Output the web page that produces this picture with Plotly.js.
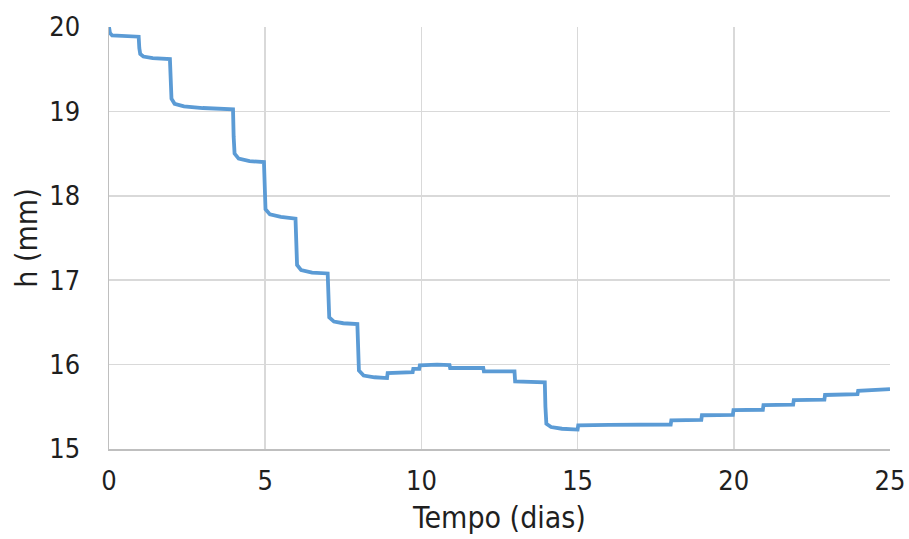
<!DOCTYPE html>
<html>
<head>
<meta charset="utf-8">
<script src="https://cdn.plot.ly/plotly-3.0.1.min.js"></script>
<style>html,body{margin:0;padding:0;background:#fff;}#chart{width:909px;height:539px;}</style>
</head>
<body>
<div id="chart"></div>
<script>
const tempoDias = [
  0, 0.03, 0.1, 0.5, 0.95,
  0.97, 1.0, 1.1, 1.4, 1.95,
  1.97, 2.0, 2.1, 2.4, 3.0, 3.97,
  3.99, 4.02, 4.15, 4.5, 4.96,
  4.98, 5.01, 5.15, 5.5, 5.97,
  5.99, 6.02, 6.15, 6.5, 7.0,
  7.02, 7.05, 7.2, 7.5, 7.95,
  7.97, 8.0, 8.15, 8.5, 8.9,
  8.92, 9.72, 9.74, 9.93, 9.95, 10.5, 10.9,
  10.92, 11.98, 12.0, 12.98, 13.0, 13.95,
  13.97, 14.0, 14.15, 14.5, 15.0,
  15.02, 16.0, 17.0, 17.98,
  18.0, 18.96, 18.98, 19.97, 19.99, 20.93,
  20.95, 21.9, 21.92, 22.9, 22.92, 23.96,
  23.98, 25.0
];
const alturaMm = [
  20.0, 19.93, 19.9, 19.89, 19.885,
  19.75, 19.68, 19.65, 19.63, 19.62,
  19.3, 19.15, 19.09, 19.06, 19.04, 19.025,
  18.7, 18.5, 18.44, 18.41, 18.40,
  18.1, 17.84, 17.78, 17.75, 17.73,
  17.4, 17.18, 17.12, 17.09, 17.08,
  16.8, 16.56, 16.51, 16.49, 16.48,
  16.2, 15.93, 15.87, 15.85, 15.84,
  15.90, 15.91, 15.95, 15.95, 15.99, 16.0, 15.995,
  15.96, 15.96, 15.92, 15.92, 15.80, 15.79,
  15.5, 15.3, 15.26, 15.24, 15.23,
  15.28, 15.285, 15.29, 15.29,
  15.34, 15.345, 15.40, 15.405, 15.46, 15.465,
  15.52, 15.525, 15.58, 15.585, 15.64, 15.65,
  15.69, 15.71
];
const xTicks = [0, 5, 10, 15, 20, 25];
const yTicks = [15, 16, 17, 18, 19, 20];

const fam = '"DejaVu Sans Condensed", "DejaVu Sans", sans-serif';
const font = {family: fam, size: 27, color: '#1f1f1f'};
const titleFont = {family: fam, size: 30, color: '#1f1f1f'};

const trace = {
  x: tempoDias, y: alturaMm, type: 'scatter', mode: 'lines',
  line: {color: '#5B9BD5', width: 3.8}, hoverinfo: 'x+y'
};

const layout = {
  width: 909, height: 539,
  margin: {l: 109, r: 19, t: 27, b: 90},
  paper_bgcolor: '#ffffff', plot_bgcolor: '#ffffff',
  font: font,
  showlegend: false,
  xaxis: {
    range: [0, 25], tickvals: xTicks, ticktext: xTicks.map(String),
    showgrid: true, gridcolor: '#d9d9d9', gridwidth: 1.5,
    showline: true, linecolor: '#bfbfbf', linewidth: 1.5,
    zeroline: false, ticks: '', ticklabelstandoff: 7,
    tickfont: font,
    title: {text: 'Tempo (dias)', font: titleFont, standoff: 12},
    automargin: false
  },
  yaxis: {
    range: [15, 20], tickvals: yTicks, ticktext: yTicks.map(String),
    showgrid: true, gridcolor: '#d9d9d9', gridwidth: 1.5,
    showline: true, linecolor: '#bfbfbf', linewidth: 1.5,
    zeroline: false, ticks: '', ticklabelstandoff: 22,
    tickfont: font,
    title: {text: 'h (mm)', font: titleFont, standoff: 2},
    automargin: false
  }
};

Plotly.newPlot('chart', [trace], layout, {staticPlot: true, displayModeBar: false});
</script>
</body>
</html>
